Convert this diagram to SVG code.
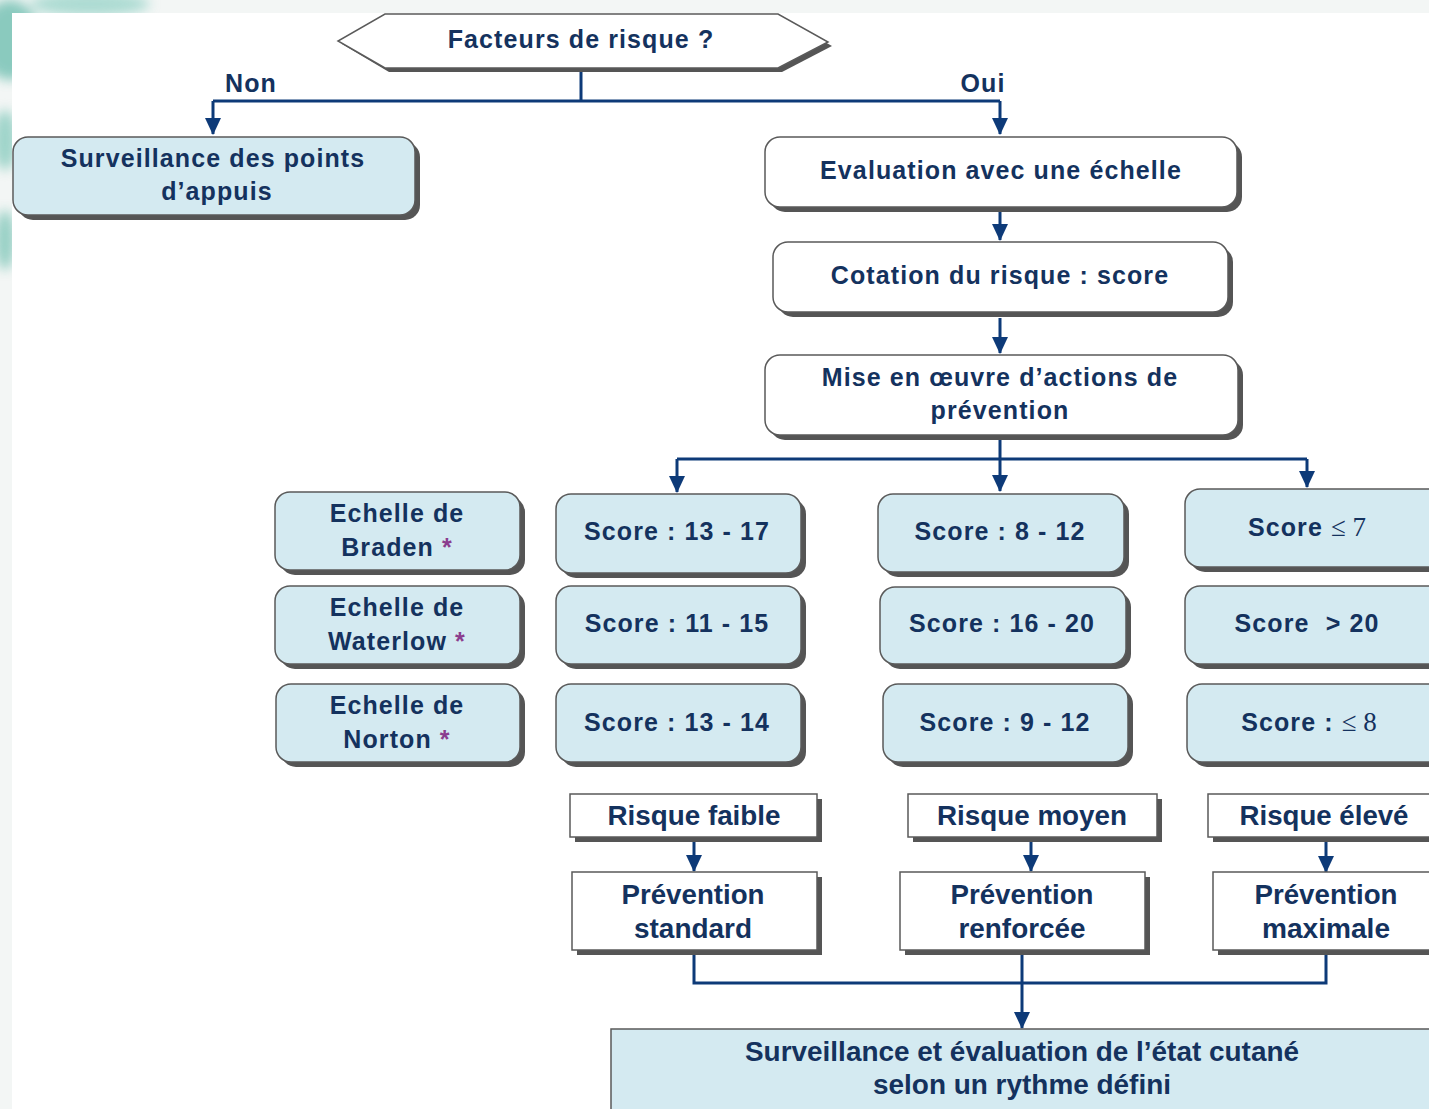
<svg xmlns="http://www.w3.org/2000/svg" width="1429" height="1109" viewBox="0 0 1429 1109">
<style>
.t{font-family:"Liberation Sans",Arial,sans-serif;font-weight:bold;font-size:25px;letter-spacing:1.1px;fill:#14325e;text-anchor:middle}
.n{font-family:"Liberation Sans",Arial,sans-serif;font-weight:bold;font-size:28px;fill:#14325e;text-anchor:middle}
.s{font-family:"Liberation Serif","Times New Roman",serif;font-weight:normal;letter-spacing:0}
.ast{fill:#8b3d8e}
.blue{fill:#d4eaf1;stroke:#5a5a5a;stroke-width:1.5}
.white{fill:#ffffff;stroke:#5a5a5a;stroke-width:1.5}
.sh{fill:#555555}
.c{fill:none;stroke:#0d3a78;stroke-width:3}
</style>
<defs>
<marker id="ad" markerUnits="userSpaceOnUse" markerWidth="18" markerHeight="18" viewBox="0 0 18 18" refX="16" refY="9" orient="auto">
<path d="M0,1 L17,9 L0,17 Z" fill="#0d3a78"/>
</marker>
<filter id="bl" x="-50%" y="-50%" width="200%" height="200%"><feGaussianBlur stdDeviation="6"/></filter>
</defs>
<rect x="0" y="0" width="1429" height="1109" fill="#f3f6f5"/>
<g filter="url(#bl)" opacity="0.7">
<ellipse cx="10" cy="40" rx="30" ry="40" fill="#5fb8a8"/>
<ellipse cx="90" cy="4" rx="60" ry="12" fill="#8fd0c4"/>
<ellipse cx="5" cy="140" rx="12" ry="30" fill="#7cc6b8"/>
<ellipse cx="5" cy="240" rx="10" ry="30" fill="#6fc0b0"/>
</g>
<rect x="12" y="13" width="1417" height="1096" fill="#ffffff"/>

<g id="connectors">
<path class="c" d="M581,68 V101"/>
<path class="c" d="M213,101 H1000"/>
<path class="c" d="M213,101 V134" marker-end="url(#ad)"/>
<path class="c" d="M1000,101 V134" marker-end="url(#ad)"/>
<path class="c" d="M1000,212 V240" marker-end="url(#ad)"/>
<path class="c" d="M1000,318 V353" marker-end="url(#ad)"/>
<path class="c" d="M1000,438 V491" marker-end="url(#ad)"/>
<path class="c" d="M677,459 H1307"/>
<path class="c" d="M677,459 V492" marker-end="url(#ad)"/>
<path class="c" d="M1307,459 V487" marker-end="url(#ad)"/>
<path class="c" d="M694,838 V871" marker-end="url(#ad)"/>
<path class="c" d="M1031,838 V871" marker-end="url(#ad)"/>
<path class="c" d="M1326,838 V872" marker-end="url(#ad)"/>
<path class="c" d="M694,951 V983 H1326 V951"/>
<path class="c" d="M1022,951 V1028" marker-end="url(#ad)"/>
</g>

<g id="n-facteurs">
<polygon class="sh" points="389,18 782,18 832,46 782,72 389,72 342,44"/>
<polygon class="white" points="385,14 778,14 828,42 778,68 385,68 338,41"/>
<text class="t" x="581" y="48">Facteurs de risque ?</text>
</g>
<text class="t" x="251" y="92">Non</text>
<text class="t" x="983" y="92">Oui</text>

<g id="n-surveillance">
<rect class="sh" x="18" y="142" width="402" height="78" rx="15"/>
<rect class="blue" x="13" y="137" width="402" height="78" rx="15"/>
<text class="t" x="213" y="167">Surveillance des points</text>
<text class="t" x="217" y="200">d’appuis</text>
</g>

<g id="n-evaluation">
<rect class="sh" x="770" y="142" width="472" height="70" rx="15"/>
<rect class="white" x="765" y="137" width="472" height="70" rx="15"/>
<text class="t" x="1001" y="179">Evaluation avec une échelle</text>
</g>

<g id="n-cotation">
<rect class="sh" x="778" y="247" width="455" height="70" rx="15"/>
<rect class="white" x="773" y="242" width="455" height="70" rx="15"/>
<text class="t" x="1000" y="284">Cotation du risque : score</text>
</g>

<g id="n-mise">
<rect class="sh" x="770" y="360" width="473" height="80" rx="15"/>
<rect class="white" x="765" y="355" width="473" height="80" rx="15"/>
<text class="t" x="1000" y="386">Mise en œuvre d’actions de</text>
<text class="t" x="1000" y="419">prévention</text>
</g>

<g id="n-braden">
<rect class="sh" x="280" y="497" width="245" height="78" rx="15"/>
<rect class="blue" x="275" y="492" width="245" height="78" rx="15"/>
<text class="t" x="397" y="522">Echelle de</text>
<text class="t" x="397" y="556">Braden <tspan class="ast">*</tspan></text>
</g>
<g id="n-waterlow">
<rect class="sh" x="280" y="591" width="245" height="78" rx="15"/>
<rect class="blue" x="275" y="586" width="245" height="78" rx="15"/>
<text class="t" x="397" y="616">Echelle de</text>
<text class="t" x="397" y="650">Waterlow <tspan class="ast">*</tspan></text>
</g>
<g id="n-norton">
<rect class="sh" x="281" y="689" width="244" height="78" rx="15"/>
<rect class="blue" x="276" y="684" width="244" height="78" rx="15"/>
<text class="t" x="397" y="714">Echelle de</text>
<text class="t" x="397" y="748">Norton <tspan class="ast">*</tspan></text>
</g>

<g id="n-s1317">
<rect class="sh" x="561" y="499" width="245" height="79" rx="15"/>
<rect class="blue" x="556" y="494" width="245" height="79" rx="15"/>
<text class="t" x="677" y="540">Score : 13 - 17</text>
</g>
<g id="n-s1115">
<rect class="sh" x="561" y="591" width="245" height="78" rx="15"/>
<rect class="blue" x="556" y="586" width="245" height="78" rx="15"/>
<text class="t" x="677" y="632">Score : 11 - 15</text>
</g>
<g id="n-s1314">
<rect class="sh" x="561" y="689" width="245" height="78" rx="15"/>
<rect class="blue" x="556" y="684" width="245" height="78" rx="15"/>
<text class="t" x="677" y="731">Score : 13 - 14</text>
</g>

<g id="n-s812">
<rect class="sh" x="883" y="499" width="246" height="78" rx="15"/>
<rect class="blue" x="878" y="494" width="246" height="78" rx="15"/>
<text class="t" x="1000" y="540">Score : 8 - 12</text>
</g>
<g id="n-s1620">
<rect class="sh" x="885" y="592" width="246" height="77" rx="15"/>
<rect class="blue" x="880" y="587" width="246" height="77" rx="15"/>
<text class="t" x="1002" y="632">Score : 16 - 20</text>
</g>
<g id="n-s912">
<rect class="sh" x="888" y="689" width="245" height="78" rx="15"/>
<rect class="blue" x="883" y="684" width="245" height="78" rx="15"/>
<text class="t" x="1005" y="731">Score : 9 - 12</text>
</g>

<g id="n-sle7">
<rect class="sh" x="1190" y="494" width="260" height="78" rx="15"/>
<rect class="blue" x="1185" y="489" width="260" height="78" rx="15"/>
<text class="t" x="1307" y="536">Score <tspan class="s" font-size="27">≤ 7</tspan></text>
</g>
<g id="n-sgt20">
<rect class="sh" x="1190" y="591" width="260" height="78" rx="15"/>
<rect class="blue" x="1185" y="586" width="260" height="78" rx="15"/>
<text class="t" x="1307" y="632" xml:space="preserve">Score  &gt; 20</text>
</g>
<g id="n-sle8">
<rect class="sh" x="1192" y="689" width="260" height="78" rx="15"/>
<rect class="blue" x="1187" y="684" width="260" height="78" rx="15"/>
<text class="t" x="1309" y="731">Score : <tspan class="s" font-size="27">≤ 8</tspan></text>
</g>

<g id="n-faible">
<rect class="sh" x="575" y="799" width="247" height="43"/>
<rect class="white" x="570" y="794" width="247" height="43"/>
<text class="n" x="694" y="825" textLength="173" lengthAdjust="spacingAndGlyphs">Risque faible</text>
</g>
<g id="n-moyen">
<rect class="sh" x="913" y="799" width="249" height="43"/>
<rect class="white" x="908" y="794" width="249" height="43"/>
<text class="n" x="1032" y="825" textLength="190" lengthAdjust="spacingAndGlyphs">Risque moyen</text>
</g>
<g id="n-eleve">
<rect class="sh" x="1213" y="799" width="240" height="43"/>
<rect class="white" x="1208" y="794" width="240" height="43"/>
<text class="n" x="1324" y="825" textLength="169" lengthAdjust="spacingAndGlyphs">Risque élevé</text>
</g>

<g id="n-standard">
<rect class="sh" x="577" y="877" width="245" height="78"/>
<rect class="white" x="572" y="872" width="245" height="78"/>
<text class="n" x="693" y="904" textLength="143" lengthAdjust="spacingAndGlyphs">Prévention</text>
<text class="n" x="693" y="938" textLength="118" lengthAdjust="spacingAndGlyphs">standard</text>
</g>
<g id="n-renforcee">
<rect class="sh" x="905" y="877" width="245" height="78"/>
<rect class="white" x="900" y="872" width="245" height="78"/>
<text class="n" x="1022" y="904" textLength="143" lengthAdjust="spacingAndGlyphs">Prévention</text>
<text class="n" x="1022" y="938" textLength="127" lengthAdjust="spacingAndGlyphs">renforcée</text>
</g>
<g id="n-maximale">
<rect class="sh" x="1218" y="877" width="240" height="78"/>
<rect class="white" x="1213" y="872" width="240" height="78"/>
<text class="n" x="1326" y="904" textLength="143" lengthAdjust="spacingAndGlyphs">Prévention</text>
<text class="n" x="1326" y="938" textLength="128" lengthAdjust="spacingAndGlyphs">maximale</text>
</g>

<g id="n-surveillance-cutane">
<rect class="blue" x="611" y="1029" width="830" height="90"/>
<text class="n" x="1022" y="1061" textLength="554" lengthAdjust="spacingAndGlyphs">Surveillance et évaluation de l’état cutané</text>
<text class="n" x="1022" y="1094" textLength="298" lengthAdjust="spacingAndGlyphs">selon un rythme défini</text>
</g>
</svg>
